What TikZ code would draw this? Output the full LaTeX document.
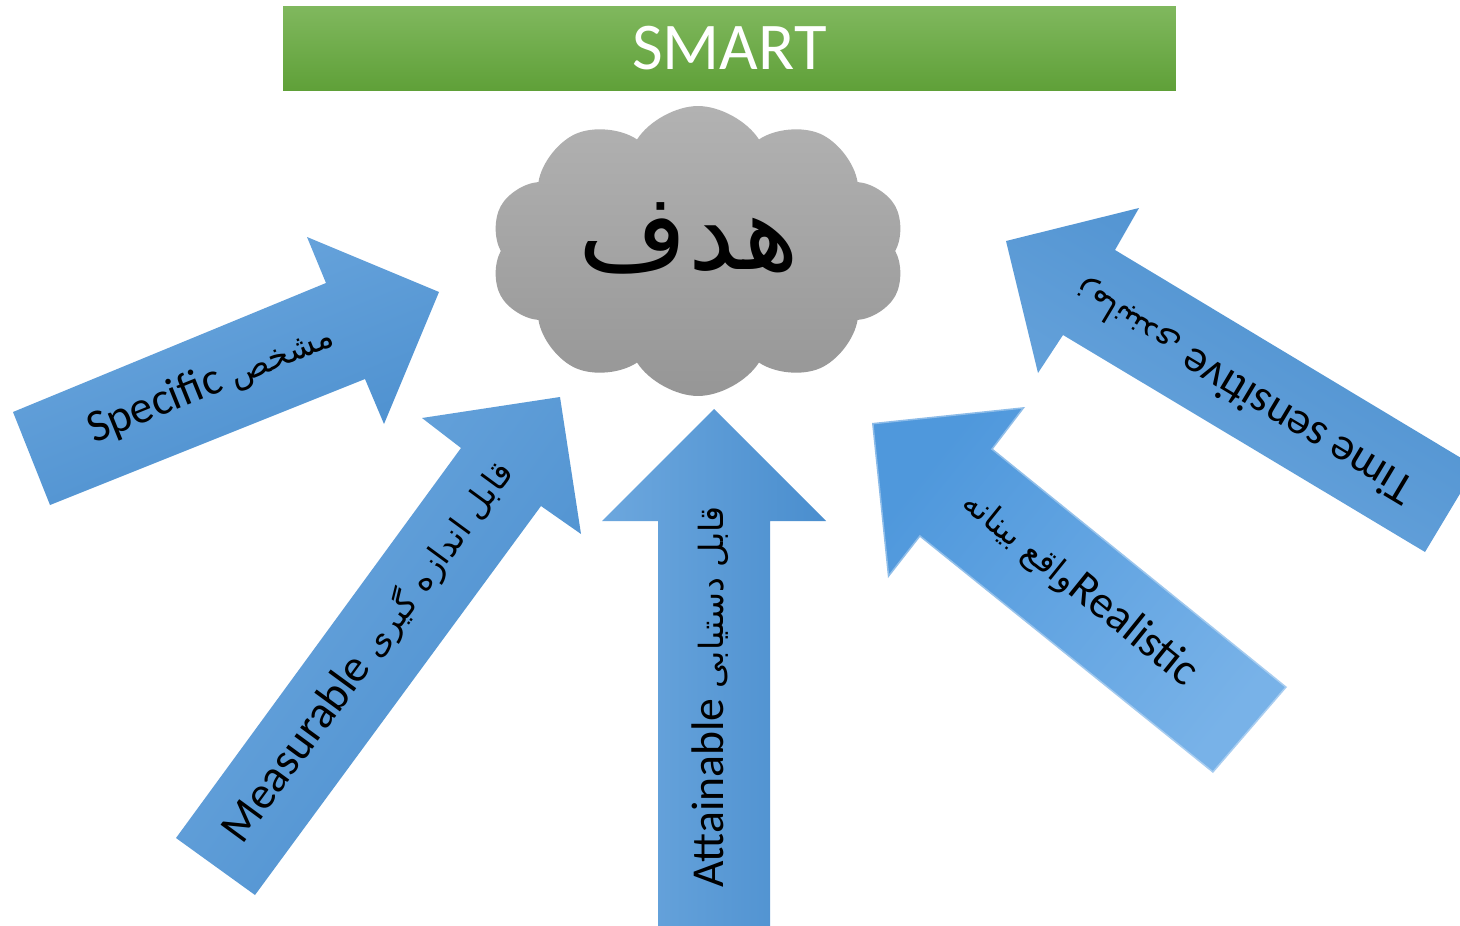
\documentclass[tikz,border=0pt]{standalone}
\usepackage{fontspec}
\setmainfont{Carlito}
\newfontfamily\arabicfont[Script=Arabic]{DejaVu Sans}
\TeXXeTstate=1
\usetikzlibrary{shapes.symbols}
\definecolor{blueL}{HTML}{6CA7DE}
\definecolor{blueD}{HTML}{4A8ECE}
\definecolor{blueRT}{HTML}{4F98DC}
\definecolor{blueRB}{HTML}{78B2E8}
\definecolor{greenT}{HTML}{80B85E}
\definecolor{greenB}{HTML}{5FA038}
\definecolor{cloudT}{HTML}{B2B2B2}
\definecolor{cloudB}{HTML}{969696}
\tikzset{
  arrowshape/.style={left color=blueL, right color=blueD, draw=none},
  lbl/.style={font=\fontsize{26}{31}\selectfont, text=black, inner sep=0pt},
  titlebar/.style={top color=greenT, bottom color=greenB, draw=none,
    minimum width=17.86cm, minimum height=1.7cm, inner sep=0pt,
    text=white, font=\fontsize{38}{44}\selectfont},
  goalcloud/.style={cloud, cloud puffs=10, cloud puff arc=115, aspect=1.43,
    minimum width=8.3cm, minimum height=5.8cm, inner sep=0pt,
    top color=cloudT, bottom color=cloudB, draw=none},
  goaltext/.style={font=\arabicfont\fontsize{60}{70}\selectfont, text=black, inner sep=0pt}
}
\newcommand\fa[1]{{\arabicfont\fontsize{19}{23}\selectfont\beginR #1\endR}}
\begin{document}
\begin{tikzpicture}[x=0.02cm,y=-0.02cm]
\useasboundingbox (0,0) rectangle (1460,926);
\fill[white] (0,0) rectangle (1460,926);
\clip (0,0) rectangle (1460,926);

% title
\node[titlebar] (title) at (729.5,48.5) {SMART};

% goal cloud
\node[goalcloud] (goal) at (698,251) {};
\node[goaltext] (goallabel) at (689,238) {\beginR هدف\endR};

% Specific
\shade[arrowshape, shading angle=22] (13,412) -- (326,283) -- (307,237) -- (439,292)
  -- (384,424) -- (365,379) -- (50,505) -- cycle;
\node[lbl, rotate=22.1] (specific) at (211,383) {Specific \fa{مشخص}};

% Measurable
\shade[arrowshape, shading angle=54] (176,838) -- (461,448) -- (422,418) -- (560,397)
  -- (581,534) -- (541,506) -- (255,895) -- cycle;
\node[lbl, rotate=53.8] (measurable) at (369,652) {Measurable \fa{قابل اندازه گیری}};

% Attainable
\shade[arrowshape, shading angle=90] (658,930) -- (658,521) -- (602,521) -- (714,409)
  -- (826,521) -- (770,521) -- (770,930) -- cycle;
\node[lbl, rotate=90] (attainable) at (710,697) {Attainable \fa{قابل دستیابی}};

% Realistic (bevelled)
\shade[top color=blueRT, bottom color=blueRB, shading angle=51] (872,423) -- (1025,407) -- (993,449)
  -- (1287,687) -- (1213,773) -- (920,537) -- (888,578) -- cycle;
\draw[white, opacity=0.35, line width=0.06cm, line join=miter] (872,423) -- (1025,407) -- (993,449)
  -- (1287,687) -- (1213,773) -- (920,537) -- (888,578) -- cycle;
\node[lbl, rotate=-38.9] (realistic) at (1080,588) {\fa{واقع بینانه}Realistic};

% Time sensitive
\shade[arrowshape, shading angle=149] (1006,241) -- (1139,208) -- (1115,250) -- (1476,467)
  -- (1425,552) -- (1063,335) -- (1038,373) -- cycle;
\node[lbl, rotate=149.1] (timesens) at (1244,391) {Time sensitive \fa{زمانبندی}};
\end{tikzpicture}
\end{document}
